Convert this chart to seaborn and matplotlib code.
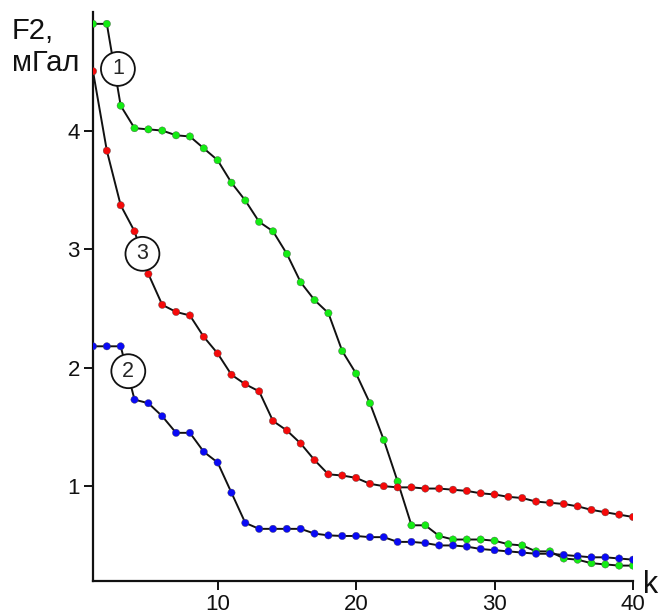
import numpy as np
import pandas as pd
import matplotlib
matplotlib.use("Agg")
import matplotlib.pyplot as plt
import seaborn as sns

k = list(range(1, 41))

curve1 = [4.90, 4.90, 4.21, 4.02, 4.01, 4.00, 3.96, 3.95, 3.85, 3.75,
          3.56, 3.41, 3.23, 3.15, 2.96, 2.72, 2.57, 2.46, 2.14, 1.95,
          1.70, 1.39, 1.04, 0.67, 0.67, 0.58, 0.55, 0.55, 0.55, 0.54,
          0.51, 0.50, 0.45, 0.45, 0.39, 0.38, 0.35, 0.34, 0.33, 0.33]

curve2 = [2.18, 2.18, 2.18, 1.73, 1.70, 1.59, 1.45, 1.45, 1.29, 1.20,
          0.945, 0.69, 0.64, 0.64, 0.64, 0.64, 0.60, 0.585, 0.58, 0.58,
          0.57, 0.57, 0.53, 0.53, 0.52, 0.50, 0.50, 0.49, 0.47, 0.46,
          0.45, 0.44, 0.43, 0.43, 0.42, 0.41, 0.40, 0.40, 0.39, 0.38]

curve3 = [4.50, 3.83, 3.37, 3.15, 2.79, 2.53, 2.47, 2.44, 2.26, 2.12,
          1.94, 1.86, 1.80, 1.55, 1.47, 1.36, 1.22, 1.10, 1.09, 1.07,
          1.02, 1.00, 0.99, 0.99, 0.98, 0.98, 0.97, 0.96, 0.94, 0.93,
          0.91, 0.90, 0.87, 0.86, 0.85, 0.83, 0.80, 0.78, 0.76, 0.74]

series_names = ["1", "2", "3"]
series_colors = {"1": "#14ec14", "2": "#0a0af5", "3": "#f50a0a"}
# curve label positions (k, F2)
label_pos = {"1": (2.8, 4.52), "2": (3.55, 1.97), "3": (4.57, 2.96)}

x_ticks = [10, 20, 30, 40]
y_ticks = [1, 2, 3, 4]

df = pd.DataFrame({
    "k": k * 3,
    "F2": curve1 + curve2 + curve3,
    "curve": ["1"] * 40 + ["2"] * 40 + ["3"] * 40,
})

sns.set_style("white")
plt.rcParams["font.family"] = ["Liberation Sans", "DejaVu Sans"]

fig = plt.figure(figsize=(6.6, 6.16), dpi=100)
ax = fig.add_axes([0.1409, 0.0568, 0.8182, 0.9237])

for name in series_names:
    sub = df[df["curve"] == name]
    sns.lineplot(data=sub, x="k", y="F2", ax=ax, color="#111111",
                 linewidth=1.4, zorder=2, legend=False)

sns.scatterplot(data=df, x="k", y="F2", hue="curve", palette=series_colors,
                ax=ax, s=28, edgecolor="#444444", linewidth=0.25,
                zorder=4, legend=False)

for name, (xk, yv) in label_pos.items():
    ax.text(xk, yv, name, ha="center", va="center", fontsize=15.5,
            zorder=5,
            bbox=dict(boxstyle="circle,pad=0.3", fc="white", ec="#111111",
                      lw=1.3))

ax.set_xlim(1, 40)
ax.set_ylim(0.2, 5.0)
ax.set_xticks(x_ticks)
ax.set_yticks(y_ticks)
ax.tick_params(axis="both", direction="out", length=6.5, width=1.4,
               labelsize=16, colors="#111111", pad=3, left=True, bottom=True)
for side in ["top", "right"]:
    ax.spines[side].set_visible(False)
for side in ["left", "bottom"]:
    ax.spines[side].set_color("#111111")
    ax.spines[side].set_linewidth(1.6)
ax.set_xlabel("")
ax.set_ylabel("")

fig.text(0.018, 0.972, "F2,\nмГал", ha="left", va="top", fontsize=21,
         linespacing=1.15, color="#111111")
fig.text(0.985, 0.05, "k", ha="center", va="center", fontsize=22,
         color="#111111")

fig.savefig("out.png", dpi=100)
